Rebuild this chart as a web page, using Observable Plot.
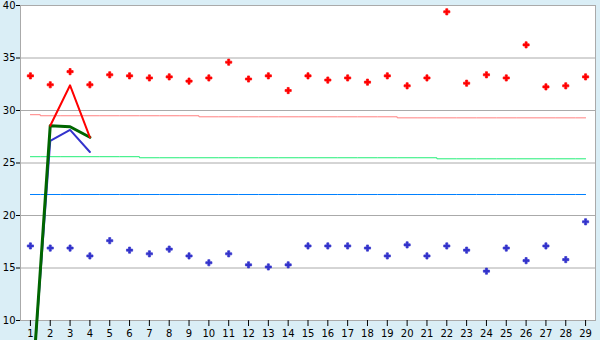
<!DOCTYPE html>
<html>
<head>
<meta charset="utf-8">
<script src="https://cdn.jsdelivr.net/npm/d3@7"></script>
<script src="https://cdn.jsdelivr.net/npm/@observablehq/plot@0.6"></script>
<style>
  html, body { margin: 0; padding: 0; background: #DAEEF6; }
  #chart svg { display: block; }
</style>
</head>
<body>
<div id="chart"></div>
<script>
const days = [1,2,3,4,5,6,7,8,9,10,11,12,13,14,15,16,17,18,19,20,21,22,23,24,25,26,27,28,29];
const highs = [33.3,32.45,33.7,32.45,33.4,33.3,33.1,33.2,32.8,33.1,34.6,33.0,33.3,31.9,33.3,32.9,33.1,32.7,33.3,32.35,33.1,39.4,32.6,33.4,33.1,36.25,32.25,32.35,33.2];
const lows = [17.1,16.9,16.9,16.15,17.6,16.7,16.35,16.8,16.15,15.5,16.35,15.3,15.1,15.3,17.1,17.1,17.1,16.9,16.15,17.2,16.15,17.1,16.7,14.7,16.9,15.7,17.1,15.8,19.4];
const highAvg = [29.6,29.5,29.5,29.5,29.5,29.5,29.5,29.5,29.5,29.4,29.4,29.4,29.4,29.4,29.4,29.4,29.4,29.4,29.4,29.3,29.3,29.3,29.3,29.3,29.3,29.3,29.3,29.3,29.3];
const midAvg = [25.6,25.6,25.6,25.6,25.6,25.6,25.5,25.5,25.5,25.5,25.5,25.5,25.5,25.5,25.5,25.5,25.5,25.5,25.5,25.5,25.5,25.4,25.4,25.4,25.4,25.4,25.4,25.4,25.4];
const lowAvg = [22,22,22,22,22,22,22,22,22,22,22,22,22,22,22,22,22,22,22,22,22,22,22,22,22,22,22,22,22];
const recentDays = [1,2,3,4];
const recentHigh = [null,28.55,32.4,27.45];
const recentMid = [1.0,28.55,28.45,27.45];
const recentLow = [1.5,27.1,28.15,26.05];
const yTicks = [10,15,20,25,30,35,40];

const table = days.map((d,i) => ({day:d, high:highs[i], low:lows[i], ha:highAvg[i], ma:midAvg[i], la:lowAvg[i]}));
const recent = recentDays.map((d,i) => ({day:d, h:recentHigh[i], m:recentMid[i], l:recentLow[i]}));

const chart = Plot.plot({
  width: 600,
  height: 340,
  marginLeft: 20,
  marginRight: 5,
  marginTop: 5,
  marginBottom: 20,
  style: {background: "#DAEEF6", fontFamily: "DejaVu Sans, Verdana, sans-serif", fontSize: "10px", color: "black"},
  x: {type: "point", domain: days, padding: 0.5, round: false},
  y: {domain: [10, 40]},
  marks: [
    Plot.frame({fill: "white", stroke: "#AAAAAA"}),
    Plot.gridY(yTicks, {stroke: "#AAAAAA", strokeOpacity: 1}),
    Plot.axisY(yTicks, {tickSize: 4, tickPadding: 1, stroke: "black", label: null, fill: "black"}),
    Plot.axisX(days, {tickSize: 6, tickPadding: 3, stroke: "black", label: null, fill: "black"}),
    Plot.line(table, {x: "day", y: "ha", stroke: "#FF8080", strokeWidth: 1, curve: "step"}),
    Plot.line(table, {x: "day", y: "ma", stroke: "#22EE77", strokeWidth: 1, curve: "step"}),
    Plot.line(table, {x: "day", y: "la", stroke: "#0080FF", strokeWidth: 1, curve: "step"}),
    Plot.line(recent, {x: "day", y: "l", stroke: "#3333CC", strokeWidth: 2}),
    Plot.line(recent, {x: "day", y: "m", stroke: "#006600", strokeWidth: 3}),
    Plot.line(recent, {x: "day", y: "h", stroke: "#FF0000", strokeWidth: 2}),
    Plot.dot(table, {x: "day", y: "high", symbol: "cross", r: 2.6, fill: "#FF0000", stroke: "#FF0000", strokeWidth: 0.7}),
    Plot.dot(table, {x: "day", y: "low", symbol: "cross", r: 2.6, fill: "#3333CC", stroke: "#3333CC", strokeWidth: 0.7})
  ]
});
document.getElementById("chart").appendChild(chart);
</script>
</body>
</html>
